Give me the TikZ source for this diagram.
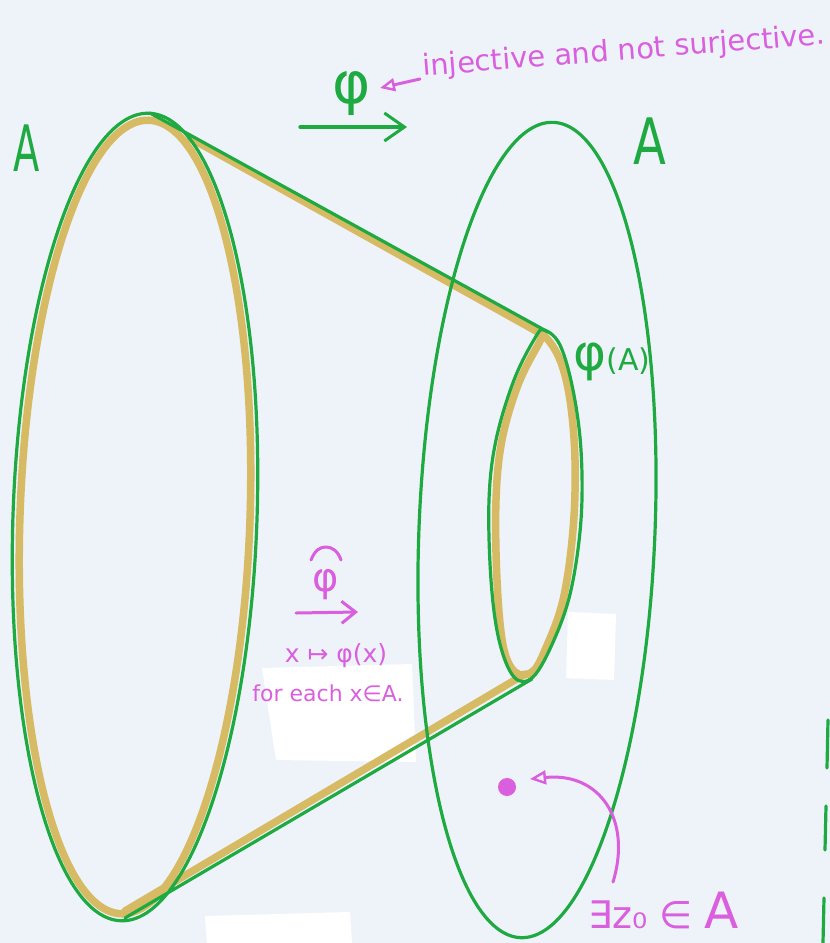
\documentclass[tikz,border=0pt]{standalone}
\usepackage{fontspec}
\setmainfont{DejaVu Sans}
\usetikzlibrary{arrows.meta}
\definecolor{bg}{RGB}{238,243,250}
\definecolor{grn}{RGB}{30,170,65}
\definecolor{gld}{RGB}{214,186,100}
\definecolor{mag}{RGB}{218,95,222}
\begin{document}
\begin{tikzpicture}[x=1pt,y=-1pt,
  greenline/.style={draw=grn,line width=3.2pt,line cap=round,line join=round},
  goldline/.style={draw=gld,line width=7.5pt,line cap=round,line join=round},
  magline/.style={draw=mag,line width=3pt,line cap=round,line join=round},
  greentext/.style={text=grn,inner sep=0pt,font=\fontsize{64}{64}\selectfont},
  magtext/.style={text=mag,inner sep=0pt},
  patch/.style={fill=white,draw=none}]
\fill[bg] (0,0) rectangle (830,943);
\useasboundingbox (0,0) rectangle (830,943);
% paper patches
\fill[patch] (568,612) -- (616,614) -- (614,680) -- (566,678) -- cycle;
\fill[patch] (262,668) -- (412,664) -- (416,762) -- (276,760) -- cycle;
\fill[patch] (205,916) -- (350,912) -- (352,943) -- (207,943) -- cycle;
% gold (yellow) left set
\draw[goldline,rotate around={-2:(135,517)}] (135,517) ellipse [x radius=115, y radius=397];
% gold inner image
\draw[goldline] plot[smooth cycle,tension=0.6] coordinates {(545,337) (560,360) (570,400) (575,460) (573,530) (563,600) (545,650) (532,672) (515,672) (503,645) (497,580) (496,500) (502,440) (518,385) (538,345)};
% gold tangents
\coordinate (gtl) at (190,138);
\coordinate (gtr) at (545,336);
\coordinate (gbl) at (125,911);
\coordinate (gbr) at (525,674);
\draw[goldline] (gtl) -- (gtr);
\draw[goldline] (gbl) -- (gbr);
% green left set
\draw[greenline,rotate around={-2:(135,517)}] (135,517) ellipse [x radius=122, y radius=404];
% green inner image
\draw[greenline] plot[smooth cycle,tension=0.6] coordinates {(544,330) (560,345) (573,390) (581,450) (581,520) (571,590) (554,640) (533,677) (514,677) (499,640) (491,580) (489,500) (496,440) (514,380) (535,338)};
% green tangents
\coordinate (tl) at (150,113);
\coordinate (tr) at (548,332);
\coordinate (bl) at (125,918);
\coordinate (br) at (532,679);
\draw[greenline] (tl) -- (tr);
\draw[greenline] (bl) -- (br);
% green right set A
\draw[greenline,rotate around={-2.3:(537,530)}] (537,530) ellipse [x radius=118, y radius=408];
% labels A
\node[greentext,xscale=0.6] (Aleft) at (27,148) {A};
\node[greentext,xscale=0.75] (Aright) at (650,141) {A};
% phi arrow
\node[greentext,font=\fontsize{58}{58}\selectfont] (phi) at (352,94) {φ};
\coordinate (pa) at (300,127);
\coordinate (pb) at (407,127);
\draw[greenline,-{Straight Barb[length=20pt,width=28pt,line width=3pt]}] (pa) -- (pb);
% phi(A)
\node[text=grn,inner sep=0pt] (phiA) at (612,362) {{\fontsize{50}{50}\selectfont φ}{\fontsize{30}{30}\selectfont (A)}};
% injective note
\node[magtext,rotate=4.5,font=\fontsize{29}{29}\selectfont] (inj) at (624,52) {injective and not surjective.};
\coordinate (ia) at (420,79);
\coordinate (ib) at (380,88);
\draw[magline,-{Triangle[open,length=15pt,width=13pt,line width=2.4pt]}] (ia) -- (ib);
% hat phi
\node[magtext,font=\fontsize{40}{40}\selectfont] (hphi) at (326,585) {φ};
\coordinate (h1) at (311,560);
\coordinate (h2) at (326,547);
\coordinate (h3) at (341,560);
\draw[magline] (h1) .. controls (315,550) and (320,547) .. (h2) .. controls (332,547) and (338,551) .. (h3);
\coordinate (ha) at (296,613);
\coordinate (hb) at (358,612);
\draw[magline,-{Straight Barb[length=14pt,width=22pt,line width=3pt]}] (ha) -- (hb);
\node[magtext,font=\fontsize{25}{25}\selectfont] (map) at (336,656) {x ↦ φ(x)};
\node[magtext,font=\fontsize{22}{22}\selectfont] (fe) at (328,693) {for each x∈A.};
% z0
\node[circle,fill=mag,inner sep=0pt,minimum size=18pt] (z0) at (507,787) {};
\node[magtext,anchor=base west] (ex) at (588,928) {{\fontsize{38}{38}\selectfont ∃z₀ ∈ }{\fontsize{50}{50}\selectfont A}};
\coordinate (ea) at (613,882);
\coordinate (eb) at (530,779);
\draw[magline,-{Triangle[open,length=16pt,width=14pt,line width=2.4pt]}] (ea) .. controls (632,820) and (600,772) .. (eb);
% right edge marks
\coordinate (m1a) at (828,720); \coordinate (m1b) at (827,768);
\coordinate (m2a) at (826,806); \coordinate (m2b) at (825,850);
\coordinate (m3a) at (824,898); \coordinate (m3b) at (823,943);
\draw[greenline] (m1a) -- (m1b);
\draw[greenline] (m2a) -- (m2b);
\draw[greenline] (m3a) -- (m3b);
\end{tikzpicture}
\end{document}
